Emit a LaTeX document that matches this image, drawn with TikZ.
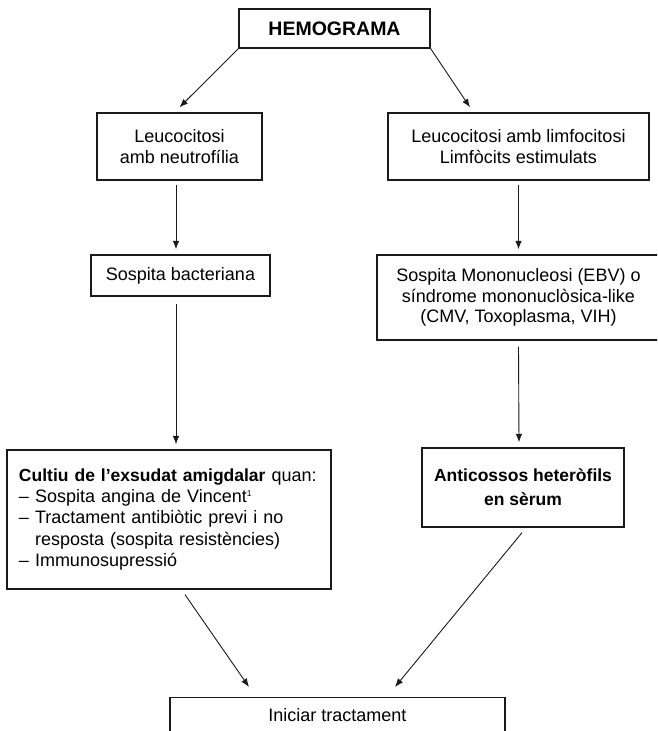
\documentclass[tikz,border=0pt]{standalone}
\usepackage{fontspec}
\setmainfont{Liberation Sans}
\usetikzlibrary{arrows.meta}

\definecolor{ink}{HTML}{1A1A1A}

\tikzset{
  box/.style={draw=ink, line width=1.3pt, inner sep=0pt, align=center,
    font=\fontsize{18}{21}\selectfont, text=black},
  arr/.style={draw=ink, line width=0.9pt, -{Latex[length=8.5pt,width=6.5pt]}},
}
% small footnote mark
\newcommand{\fnmark}[1]{\raisebox{0.62ex}{\fontsize{8.5}{8.5}\selectfont #1}}

\begin{document}
\begin{tikzpicture}[x=1pt,y=-1pt]
\useasboundingbox (0,0) rectangle (657,731);
\clip (0,0) rectangle (657,731);
\fill[white] (0,0) rectangle (657,731);

% boxes
\node[box, minimum width=191pt, minimum height=39pt,
      font=\fontsize{19.5}{22}\bfseries] (hemo) at (334.5,28.5) {HEMOGRAMA};

\node[box, minimum width=165pt, minimum height=67pt] (leuc1) at (179.5,146.5)
  {Leucocitosi\\amb neutrofília};
\node[box, minimum width=261pt, minimum height=67pt] (leuc2) at (518.5,146.5)
  {Leucocitosi amb limfocitosi\\Limfòcits estimulats};

\node[box, minimum width=179pt, minimum height=41pt] (bact) at (180.5,275.5)
  {Sospita bacteriana};
\node[box, minimum width=283pt, minimum height=85pt,
      font=\fontsize{18}{20.5}\selectfont] (mono) at (518.5,297.5)
  {Sospita Mononucleosi (EBV) o\\síndrome mononuclòsica-like\\(CMV, Toxoplasma, VIH)};

\node[box, text width=300pt, inner xsep=12pt, minimum height=139pt, align=left,
      font=\fontsize{18}{21.3}\selectfont] (cultiu) at (169,519.5)
  {{\fontsize{17.5}{21.3}\bfseries Cultiu de l’exsudat amigdalar} quan:\\
   – Sospita angina de Vincent\fnmark{1}\\
   – Tractament antibiòtic previ i no\\
   \phantom{–\ }resposta (sospita resistències)\\
   – Immunosupressió};

\node[box, minimum width=202pt, minimum height=79pt,
      font=\fontsize{17.5}{24}\bfseries] (anti) at (523,487.5)
  {Anticossos heteròfils\\en sèrum};

\node[box, anchor=north, minimum width=335pt, text height=12.5pt,
      text depth=45pt, inner ysep=11.5pt] (inic) at (337.5,697)
  {Iniciar tractament};

% connectors
\draw[arr] (hemo.south west) -- ([yshift=5pt]leuc1.north);
\draw[arr] (hemo.south east) -- ([xshift=-48.5pt,yshift=5pt]leuc2.north);
\draw[arr] ([xshift=-3.5pt,yshift=-4pt]leuc1.south) -- ([xshift=-4.5pt,yshift=5pt]bact.north);
\draw[arr] ([yshift=-4pt]leuc2.south) -- ([yshift=5pt]mono.north);
\draw[arr] ([xshift=-4.5pt,yshift=-7pt]bact.south) -- ([xshift=7pt,yshift=5pt]cultiu.north);
\draw[arr] ([yshift=-6pt]mono.south) -- ([xshift=-4pt,yshift=5pt]anti.north);
\draw[arr] ([xshift=16pt,yshift=-5pt]cultiu.south) -- ([xshift=-88.5pt,yshift=10pt]inic.north);
\draw[arr] ([xshift=-1pt,yshift=-5pt]anti.south) -- ([xshift=57.5pt,yshift=10pt]inic.north);
\end{tikzpicture}
\end{document}
